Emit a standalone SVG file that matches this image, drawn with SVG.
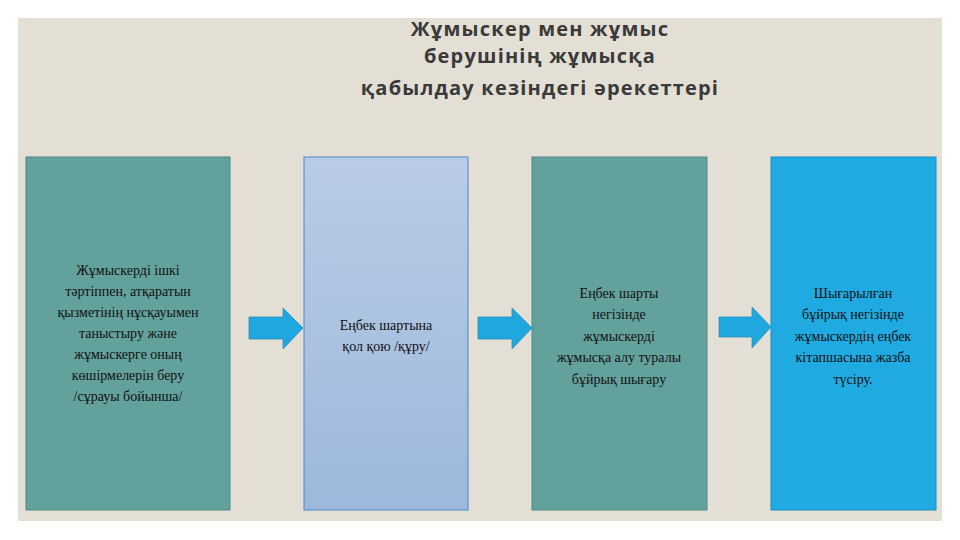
<svg xmlns="http://www.w3.org/2000/svg" width="960" height="540" viewBox="0 0 960 540">
<defs>
<linearGradient id="g2" x1="0" y1="0" x2="0" y2="1"><stop offset="0" stop-color="#b9cbe6"/><stop offset="1" stop-color="#9db8dc"/></linearGradient>
<style>
.t{font-family:"Liberation Serif","DejaVu Serif",serif;font-size:14px;fill:#111;text-anchor:middle}
.h{font-family:"Open Sans","DejaVu Sans",sans-serif;font-size:20px;font-weight:bold;fill:#3a3a3a;text-anchor:middle;letter-spacing:1.2px}
.ar{fill:#1fa8df;stroke:#2a8fc0;stroke-width:0.8}
</style>
</defs>
<rect width="960" height="540" fill="#fff"/>
<rect x="18" y="18" width="924" height="503" fill="#e4dfd5"/>
<g id="title">
<text class="h" x="540" y="36">Жұмыскер мен жұмыс</text>
<text class="h" x="540" y="63">берушінің жұмысқа</text>
<text class="h" x="540" y="95">қабылдау кезіндегі әрекеттері</text>
</g>
<g id="n1">
<rect x="26" y="157" width="204" height="353" fill="#63a19c" stroke="#4e8a85"/>
<text class="t" x="128" y="275">Жұмыскерді ішкі</text>
<text class="t" x="128" y="296">тәртіппен, атқаратын</text>
<text class="t" x="128" y="317">қызметінің нұсқауымен</text>
<text class="t" x="128" y="338">таныстыру және</text>
<text class="t" x="128" y="359">жұмыскерге оның</text>
<text class="t" x="128" y="380">көшірмелерін беру</text>
<text class="t" x="128" y="401">/сұрауы бойынша/</text>
</g>
<g id="n2">
<rect x="304" y="157" width="164" height="353" fill="url(#g2)" stroke="#4a86c8"/>
<text class="t" x="386" y="330">Еңбек шартына</text>
<text class="t" x="386" y="351">қол қою /құру/</text>
</g>
<g id="n3">
<rect x="532" y="157" width="175" height="353" fill="#63a19c" stroke="#4e8a85"/>
<text class="t" x="619" y="298">Еңбек шарты</text>
<text class="t" x="619" y="319">негізінде</text>
<text class="t" x="619" y="341">жұмыскерді</text>
<text class="t" x="619" y="362">жұмысқа алу туралы</text>
<text class="t" x="619" y="384">бұйрық шығару</text>
</g>
<g id="n4">
<rect x="771" y="157" width="165" height="353" fill="#1faae2" stroke="#1a8ec4"/>
<text class="t" x="853" y="298">Шығарылған</text>
<text class="t" x="853" y="319">бұйрық негізінде</text>
<text class="t" x="853" y="341">жұмыскердің еңбек</text>
<text class="t" x="853" y="362">кітапшасына жазба</text>
<text class="t" x="853" y="384">түсіру.</text>
</g>
<g id="connectors">
<polygon class="ar" points="249,317 283,317 283,308 303,328 283,349 283,339 249,339"/>
<polygon class="ar" points="478,317 512,317 512,308 532,328 512,349 512,339 478,339"/>
<polygon class="ar" points="719,317 752,317 752,307 771,327 752,348 752,337 719,337"/>
</g>
</svg>
